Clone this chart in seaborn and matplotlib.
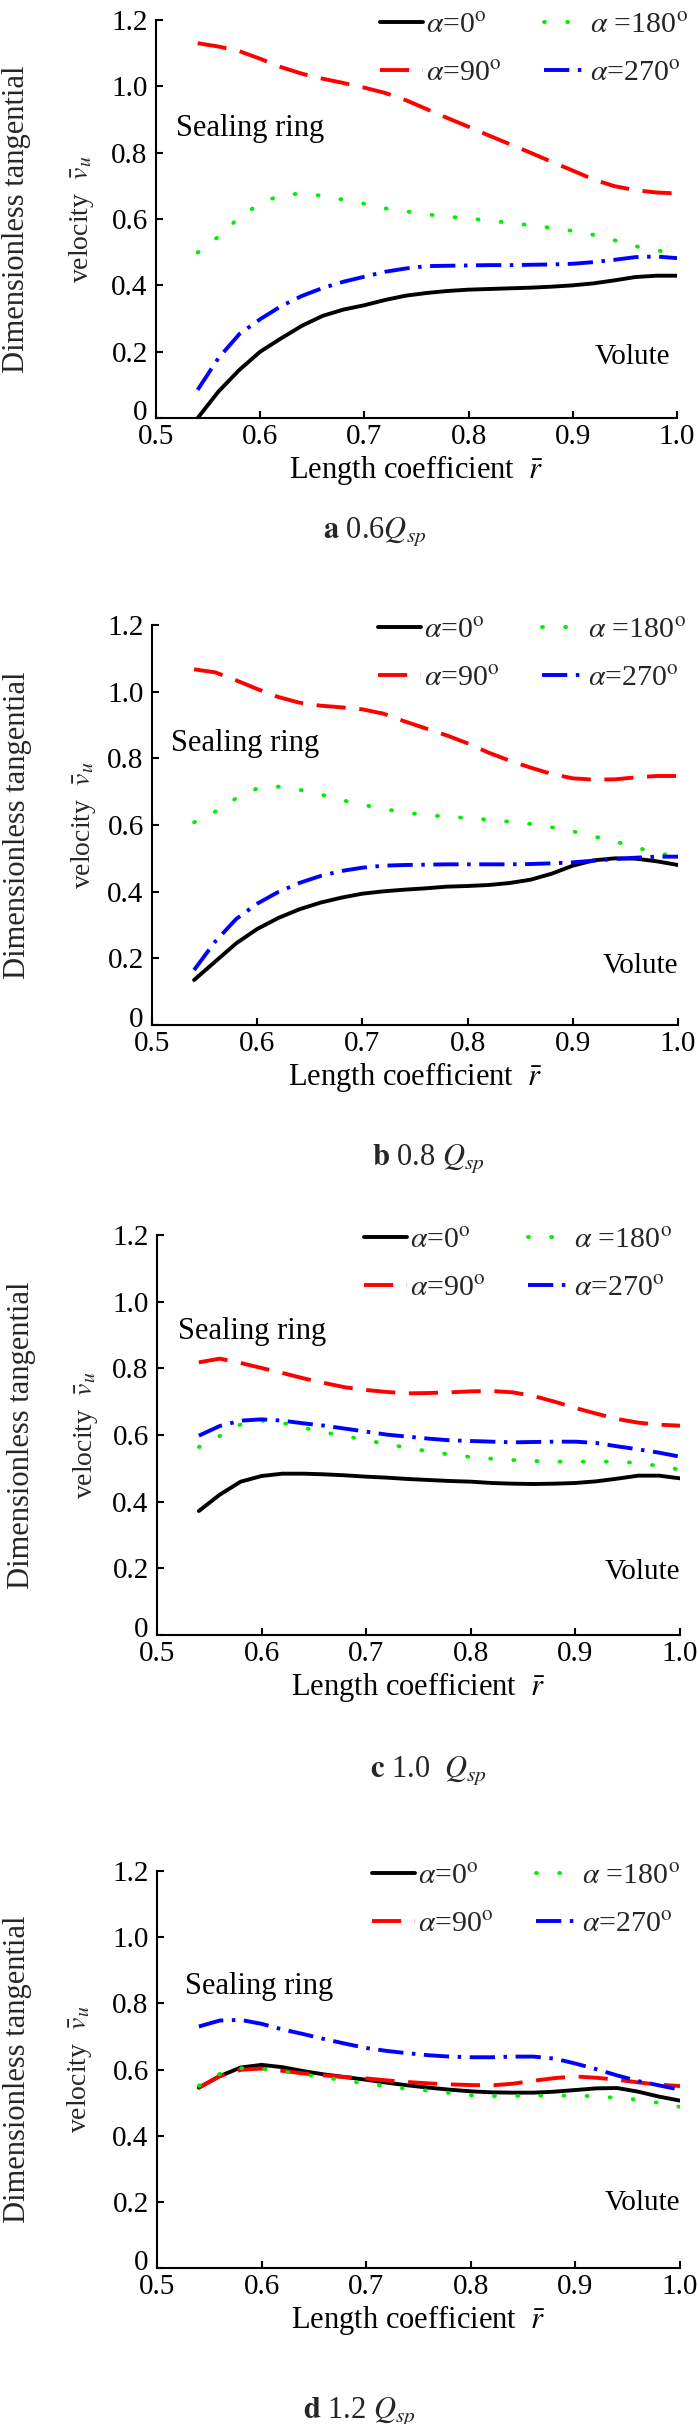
import numpy as np
import pandas as pd
import matplotlib
matplotlib.use("Agg")
import matplotlib.pyplot as plt
import matplotlib.transforms as mtransforms
import seaborn as sns

# ---------------- data ----------------
r_grid = [0.54, 0.56, 0.58, 0.60, 0.62, 0.64, 0.66, 0.68, 0.70, 0.72, 0.74, 0.76,
          0.78, 0.80, 0.82, 0.84, 0.86, 0.88, 0.90, 0.92, 0.94, 0.96, 0.98, 1.00]

# panel a : 0.6 Qsp
a_0 = [0.000, 0.080, 0.145, 0.200, 0.240, 0.278, 0.308, 0.327, 0.340, 0.356, 0.369, 0.377,
       0.383, 0.387, 0.389, 0.391, 0.393, 0.396, 0.400, 0.406, 0.415, 0.425, 0.429, 0.429]
a_90 = [1.130, 1.120, 1.106, 1.083, 1.058, 1.038, 1.023, 1.010, 0.996, 0.980, 0.958, 0.931,
        0.904, 0.878, 0.851, 0.825, 0.799, 0.772, 0.746, 0.719, 0.699, 0.687, 0.680, 0.677]
a_180 = [0.499, 0.547, 0.605, 0.647, 0.672, 0.677, 0.670, 0.658, 0.646, 0.632, 0.623, 0.614,
         0.607, 0.602, 0.595, 0.588, 0.581, 0.573, 0.564, 0.552, 0.536, 0.518, 0.506, 0.494]
a_270 = [0.085, 0.181, 0.253, 0.298, 0.337, 0.368, 0.392, 0.411, 0.426, 0.441, 0.451, 0.458,
         0.459, 0.460, 0.461, 0.461, 0.462, 0.463, 0.465, 0.470, 0.477, 0.485, 0.487, 0.482]

# panel b : 0.8 Qsp
b_0 = [0.135, 0.190, 0.245, 0.288, 0.321, 0.347, 0.367, 0.382, 0.394, 0.401, 0.406, 0.410,
       0.415, 0.417, 0.420, 0.426, 0.436, 0.454, 0.478, 0.494, 0.500, 0.499, 0.491, 0.480]
b_90 = [1.067, 1.058, 1.034, 1.008, 0.984, 0.967, 0.958, 0.953, 0.947, 0.934, 0.911, 0.890,
        0.869, 0.845, 0.817, 0.793, 0.772, 0.753, 0.740, 0.736, 0.737, 0.743, 0.747, 0.747]
b_180 = [0.608, 0.640, 0.680, 0.710, 0.715, 0.706, 0.692, 0.675, 0.661, 0.648, 0.638, 0.630,
         0.625, 0.621, 0.616, 0.610, 0.603, 0.593, 0.581, 0.566, 0.551, 0.533, 0.516, 0.505]
b_270 = [0.165, 0.250, 0.318, 0.364, 0.399, 0.426, 0.447, 0.462, 0.472, 0.478, 0.480, 0.481,
         0.482, 0.482, 0.482, 0.482, 0.483, 0.485, 0.488, 0.493, 0.498, 0.502, 0.505, 0.505]

# panel c : 1.0 Qsp
c_0 = [0.372, 0.421, 0.460, 0.477, 0.484, 0.484, 0.482, 0.479, 0.475, 0.472, 0.468, 0.465,
       0.462, 0.460, 0.456, 0.454, 0.453, 0.454, 0.456, 0.461, 0.469, 0.478, 0.478, 0.470]
c_90 = [0.818, 0.829, 0.816, 0.801, 0.786, 0.770, 0.756, 0.743, 0.735, 0.729, 0.725, 0.726,
        0.728, 0.731, 0.732, 0.728, 0.717, 0.700, 0.681, 0.664, 0.648, 0.637, 0.631, 0.628]
c_180 = [0.564, 0.597, 0.632, 0.643, 0.636, 0.622, 0.608, 0.597, 0.584, 0.573, 0.561, 0.551,
         0.541, 0.534, 0.529, 0.525, 0.522, 0.520, 0.520, 0.520, 0.520, 0.516, 0.507, 0.496]
c_270 = [0.598, 0.627, 0.643, 0.647, 0.643, 0.635, 0.628, 0.619, 0.610, 0.601, 0.595, 0.589,
         0.584, 0.582, 0.580, 0.578, 0.579, 0.580, 0.580, 0.576, 0.566, 0.557, 0.547, 0.535]

# panel d : 1.2 Qsp
d_0 = [0.545, 0.580, 0.606, 0.614, 0.607, 0.595, 0.585, 0.577, 0.569, 0.560, 0.552, 0.545,
       0.539, 0.534, 0.531, 0.530, 0.530, 0.533, 0.538, 0.543, 0.544, 0.533, 0.518, 0.506]
d_90 = [0.545, 0.580, 0.599, 0.603, 0.596, 0.588, 0.582, 0.577, 0.573, 0.567, 0.562, 0.558,
        0.555, 0.553, 0.552, 0.557, 0.566, 0.574, 0.579, 0.575, 0.569, 0.561, 0.554, 0.550]
d_180 = [0.551, 0.587, 0.604, 0.602, 0.594, 0.585, 0.576, 0.566, 0.558, 0.549, 0.541, 0.536,
         0.529, 0.522, 0.520, 0.520, 0.521, 0.521, 0.521, 0.519, 0.514, 0.509, 0.499, 0.487]
d_270 = [0.730, 0.748, 0.750, 0.738, 0.721, 0.707, 0.692, 0.678, 0.665, 0.656, 0.649, 0.643,
         0.639, 0.637, 0.637, 0.639, 0.639, 0.633, 0.618, 0.601, 0.582, 0.565, 0.552, 0.539]

x_ticks = [0.5, 0.6, 0.7, 0.8, 0.9, 1.0]
x_tick_labels = ["0.5", "0.6", "0.7", "0.8", "0.9", "1.0"]
y_ticks = [0, 0.2, 0.4, 0.6, 0.8, 1.0, 1.2]
y_tick_labels = ["0", "0.2", "0.4", "0.6", "0.8", "1.0", "1.2"]

captions = [r"$\mathbf{a}$ 0.6$Q_{sp}$", r"$\mathbf{b}$ 0.8 $Q_{sp}$",
            r"$\mathbf{c}$ 1.0  $Q_{sp}$", r"$\mathbf{d}$ 1.2 $Q_{sp}$"]
legend_labels = [r"$\alpha$=0$^{\rm o}$", r"$\alpha$=90$^{\rm o}$",
                 r"$\alpha$ =180$^{\rm o}$", r"$\alpha$=270$^{\rm o}$"]

panels = [(a_0, a_90, a_180, a_270), (b_0, b_90, b_180, b_270),
          (c_0, c_90, c_180, c_270), (d_0, d_90, d_180, d_270)]

# ---------------- style ----------------
sns.set_theme(style="ticks")
plt.rcParams["font.family"] = ["Liberation Serif", "DejaVu Serif"]
plt.rcParams["mathtext.fontset"] = "stix"
plt.rcParams["axes.linewidth"] = 1.5

W, H = 698, 2424
fig = plt.figure(figsize=(W / 100, H / 100), dpi=100)

# axes boxes in pixels: left, right, top, bottom
boxes = [(156, 677, 20, 418), (152, 678, 625, 1025),
         (157, 680, 1235, 1635), (157, 680, 1871, 2268)]
cap_pos = [(323, 538), (372, 1165), (370, 1777), (303, 2418)]
ylab_x = [(17, 81), (18, 83), (22, 85), (18, 80)]
legend_right = [688, 686, 672, 680]
seal_pos = [(0.519, 0.874), (0.518, 0.846), (0.52, 0.909), (0.527, 0.85)]
volute_pos = [(0.993, 0.184), (1.0, 0.177), (1.0, 0.19), (1.0, 0.195)]

LW = 2.8
styles = [
    dict(color="#000000", linestyle="-"),
    dict(color="#ff0000", linestyle=(0, (7.5, 3.5)), dash_capstyle="butt"),
    dict(color="#00ee00", linestyle=(0, (0.25, 5.7)), dash_capstyle="round"),
    dict(color="#0000ff", linestyle=(0, (6.5, 2.2, 0.9, 2.2)), dash_capstyle="butt"),
]

zero_shift = mtransforms.ScaledTranslation(0, 6 / 72, fig.dpi_scale_trans)

for i, (series, (l, r, t, b)) in enumerate(zip(panels, boxes)):
    ax = fig.add_axes([l / W, 1 - b / H, (r - l) / W, (b - t) / H])
    handles = []
    for ys, st in zip(series, styles):
        df = pd.DataFrame({"r": r_grid, "v": ys})
        sns.lineplot(data=df, x="r", y="v", ax=ax, lw=LW, errorbar=None, **st)
        handles.append(ax.lines[-1])

    ax.set_xlim(0.5, 1.0)
    ax.set_ylim(0, 1.2)
    ax.set_xticks(x_ticks)
    ax.set_xticklabels(x_tick_labels)
    ax.set_yticks(y_ticks)
    ax.set_yticklabels(y_tick_labels)
    for s in ["top", "right"]:
        ax.spines[s].set_visible(False)
    for s in ["left", "bottom"]:
        ax.spines[s].set_color("black")
        ax.spines[s].set_linewidth(1.5)
    ax.tick_params(direction="in", length=5, width=1.5, labelsize=21, colors="black")
    ax.tick_params(axis="x", pad=4.5)
    ax.tick_params(axis="y", pad=6)
    # lift the "0" label slightly so it sits above the "0.5" label, as in the source
    zl = ax.get_yticklabels()[0]
    zl.set_transform(zl.get_transform() + zero_shift)

    ax.set_xlabel(r"Length coefficient  $\bar{r}$", fontsize=22, labelpad=2, color="black")
    ax.set_ylabel("")

    ax.text(*seal_pos[i], "Sealing ring", fontsize=22, ha="left", va="center", color="black")
    ax.text(*volute_pos[i], "Volute", fontsize=21, ha="right", va="center", color="black")

    lx = (legend_right[i] - l) / (r - l)
    ly = (b - (t - 8)) / (b - t)
    ax.legend(handles, legend_labels, ncol=2, loc="upper right", bbox_to_anchor=(lx, ly),
              frameon=False, fontsize=21.5, handlelength=1.45, handletextpad=0.1,
              columnspacing=1.4, labelspacing=0.7, borderaxespad=0, borderpad=0)

    yc = (t + b) / 2
    fig.text(ylab_x[i][0] / W, 1 - yc / H, "Dimensionless tangential", rotation=90,
             ha="center", va="center", fontsize=22)
    fig.text(ylab_x[i][1] / W, 1 - yc / H, r"velocity  $\bar{v}_u$", rotation=90,
             ha="center", va="center", fontsize=20)

    cx, cy = cap_pos[i]
    fig.text(cx / W, 1 - cy / H, captions[i], ha="left", va="baseline", fontsize=22)

fig.savefig("out.png", dpi=100, facecolor="white")
